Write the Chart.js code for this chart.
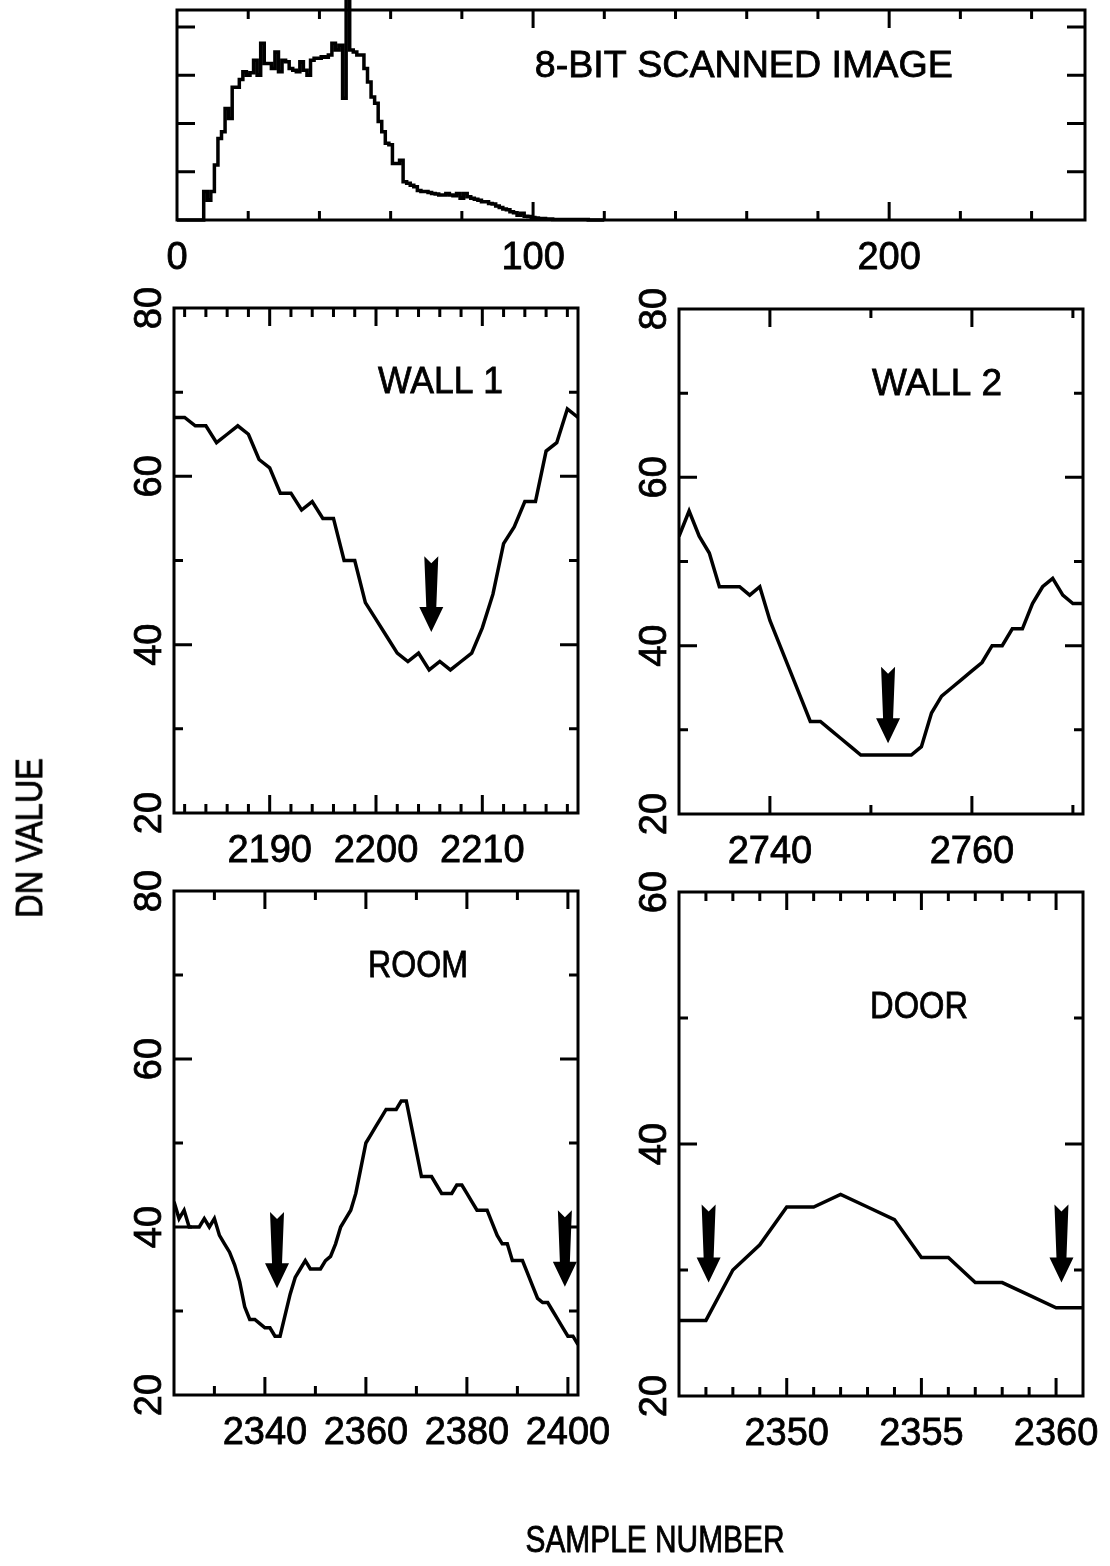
<!DOCTYPE html>
<html>
<head>
<meta charset="utf-8">
<title>DN value profiles</title>
<script src="https://cdn.jsdelivr.net/npm/chart.js@4.4.1/dist/chart.umd.min.js"></script>
<style>
  html, body { margin: 0; padding: 0; background: #fff; }
  #page { position: relative; width: 1110px; height: 1566px; overflow: hidden; background: #fff; }
  #page canvas { position: absolute; left: 0; top: 0; }
  .axis-title {
    position: absolute;
    font-family: "Liberation Sans", Arial, sans-serif;
    font-size: 36px;
    color: #000;
    white-space: nowrap;
    -webkit-text-stroke: 0.8px #000;
  }
  #dn-label { left: 30px; top: 838px; transform: translate(-50%, -50%) rotate(-90deg) scaleX(0.9); }
  #sample-label { left: 655px; top: 1540px; transform: translate(-50%, -50%) scaleX(0.83); }
</style>
</head>
<body>
<div id="page">
  <canvas id="hist-chart" width="1110" height="1566"></canvas>
  <canvas id="wall1-chart" width="1110" height="1566"></canvas>
  <canvas id="wall2-chart" width="1110" height="1566"></canvas>
  <canvas id="room-chart" width="1110" height="1566"></canvas>
  <canvas id="door-chart" width="1110" height="1566"></canvas>
  <div class="axis-title" id="dn-label">DN VALUE</div>
  <div class="axis-title" id="sample-label">SAMPLE NUMBER</div>
</div>
<script>
"use strict";

// histogram of the 8-bit scanned image, one value per DN bin starting at 0
// (bins above 120 are empty)
const histCounts = [
  0, 0, 0, 0, 0, 0, 0, 0, 0.59, 0.41,
  0.59, 1.14, 1.69, 1.83, 2.31, 2.10, 2.75, 2.75, 2.91, 3.07,
  3.00, 3.05, 3.31, 3.00, 3.66, 3.24, 3.24, 3.14, 3.48, 3.07,
  3.31, 3.28, 3.14, 3.10, 3.07, 3.28, 3.10, 3.00, 3.31, 3.35,
  3.35, 3.38, 3.37, 3.42, 3.66, 3.52, 3.62, 2.52, 4.70, 3.52,
  3.48, 3.42, 3.42, 3.14, 2.86, 2.55, 2.42, 2.04, 1.83, 1.59,
  1.56, 1.17, 1.17, 1.24, 0.79, 0.76, 0.72, 0.69, 0.61, 0.59,
  0.59, 0.57, 0.55, 0.54, 0.52, 0.52, 0.55, 0.52, 0.50, 0.55,
  0.45, 0.55, 0.48, 0.45, 0.43, 0.41, 0.38, 0.38, 0.34, 0.33,
  0.29, 0.26, 0.23, 0.21, 0.17, 0.15, 0.10, 0.14, 0.08, 0.07,
  0.05, 0.04, 0.03, 0.03, 0.02, 0.02, 0.01, 0.01, 0.01, 0.01,
  0.01, 0.01, 0.01, 0.01, 0.01, 0.01, 0, 0, 0, 0, 0
];

// WALL 1 profile, samples 2181..2219
const wall1Start = 2181;
const wall1Values = [
  67, 67, 66, 66, 64, 65, 66, 65, 62, 61,
  58, 58, 56, 57, 55, 55, 50, 50, 45, 43,
  41, 39, 38, 39, 37, 38, 37, 38, 39, 42,
  46, 52, 54, 57, 57, 63, 64, 68, 67
];

// WALL 2 profile, samples 2731..2771
const wall2Start = 2731;
const wall2Values = [
  53, 56, 53, 51, 47, 47, 47, 46, 47, 43,
  40, 37, 34, 31, 31, 30, 29, 28, 27, 27,
  27, 27, 27, 27, 28, 32, 34, 35, 36, 37,
  38, 40, 40, 42, 42, 45, 47, 48, 46, 45, 45
];

// ROOM profile, samples 2322..2402
const roomStart = 2322;
const roomValues = [
  43, 41, 42, 40, 40, 40, 41, 40, 41, 39,
  38, 37, 35.5, 33.5, 30.5, 29, 29, 28.5, 28, 28,
  27, 27, 29.5, 32, 34, 35, 36, 35, 35, 35,
  36, 36.5, 38, 40, 41, 42, 44, 47, 50, 51,
  52, 53, 54, 54, 54, 55, 55, 52, 49, 46,
  46, 46, 45, 44, 44, 44, 45, 45, 44, 43,
  42, 42, 42, 40.5, 39, 38, 38, 36, 36, 36,
  34.5, 33, 31.5, 31, 31, 30, 29, 28, 27, 27, 26
];

// DOOR profile, samples 2346..2361
const doorStart = 2346;
const doorValues = [26, 26, 30, 32, 35, 35, 36, 35, 34, 31, 31, 29, 29, 28, 27, 27];

// arrows: [sample, DN at tip, DN at tail]
const wall1Arrows = [[2205.2, 41.5, 50.5]];
const wall2Arrows = [[2751.7, 28.4, 37.5]];
const roomArrows = [[2342.4, 32.7, 41.8], [2399.4, 32.9, 42.0]];
const doorArrows = [[2347.1, 29.0, 35.2], [2360.2, 29.0, 35.2]];

const AXIS_FONT = '38px "Liberation Sans", Arial, sans-serif';
const TITLE_FONT = '37px "Liberation Sans", Arial, sans-serif';
const PAGE_W = 1110;
const PAGE_H = 1566;

function toPoints(start, values) {
  return values.map((v, i) => ({ x: start + i, y: v }));
}

function ticksBetween(min, max, step) {
  const out = [];
  const first = Math.ceil(min / step - 1e-9) * step;
  for (let v = first; v <= max + 1e-9; v += step) {
    out.push(Math.round(v * 1000) / 1000);
  }
  return out;
}

function isMultiple(v, step) {
  const r = v / step;
  return Math.abs(r - Math.round(r)) < 1e-6;
}

// plotter-style text: fill plus a thin outline so strokes look heavier
function heavyText(ctx, text, x, y) {
  ctx.fillText(text, x, y);
  ctx.strokeText(text, x, y);
}

// box, inward ticks on all sides, tick labels, panel caption and arrows
const framePlugin = {
  id: "frame",
  afterDatasetsDraw(chart, args, opts) {
    const ctx = chart.ctx;
    const area = chart.chartArea;
    const xs = chart.scales.x;
    const ys = chart.scales.y;
    ctx.save();
    ctx.strokeStyle = "#000";
    ctx.fillStyle = "#000";
    ctx.lineWidth = 3;
    ctx.lineCap = "butt";

    ctx.beginPath();
    ticksBetween(xs.min, xs.max, opts.xStep).forEach((v) => {
      const px = xs.getPixelForValue(v);
      if (px <= area.left + 2 || px >= area.right - 2) return;
      const len = isMultiple(v, opts.xMajor) ? 18 : 9;
      ctx.moveTo(px, area.bottom);
      ctx.lineTo(px, area.bottom - len);
      ctx.moveTo(px, area.top);
      ctx.lineTo(px, area.top + len);
    });
    ticksBetween(ys.min, ys.max, opts.yStep).forEach((v) => {
      const py = ys.getPixelForValue(v);
      if (py <= area.top + 2 || py >= area.bottom - 2) return;
      const len = isMultiple(v, opts.yMajor) ? 18 : 9;
      ctx.moveTo(area.left, py);
      ctx.lineTo(area.left + len, py);
      ctx.moveTo(area.right, py);
      ctx.lineTo(area.right - len, py);
    });
    ctx.stroke();
    ctx.strokeRect(area.left, area.top, area.right - area.left, area.bottom - area.top);

    ctx.lineWidth = 0.8;
    ctx.font = AXIS_FONT;
    ctx.textAlign = "center";
    ctx.textBaseline = "alphabetic";
    ticksBetween(xs.min, xs.max, opts.xMajor).forEach((v) => {
      heavyText(ctx, String(v), xs.getPixelForValue(v), area.bottom + 49);
    });
    if (opts.yLabels) {
      ticksBetween(ys.min, ys.max, opts.yMajor).forEach((v) => {
        ctx.save();
        ctx.translate(area.left - 13, ys.getPixelForValue(v));
        ctx.rotate(-Math.PI / 2);
        heavyText(ctx, String(v), 0, 0);
        ctx.restore();
      });
    }

    if (opts.title) {
      const t = opts.title;
      ctx.font = TITLE_FONT;
      ctx.textAlign = "left";
      const w = ctx.measureText(t.text).width;
      const tx = area.left + t.left * (area.right - area.left);
      const ty = area.top + t.base * (area.bottom - area.top);
      ctx.save();
      ctx.translate(tx, ty);
      ctx.scale(t.width / w, 1);
      heavyText(ctx, t.text, 0, 0);
      ctx.restore();
    }

    (opts.arrows || []).forEach(([sx, tipVal, tailVal]) => {
      const px = xs.getPixelForValue(sx);
      const tip = ys.getPixelForValue(tipVal);
      const tail = ys.getPixelForValue(tailVal);
      const headBase = tip - 25;
      ctx.beginPath();
      ctx.moveTo(px - 7, tail);
      ctx.lineTo(px, tail + 7);
      ctx.lineTo(px + 7, tail);
      ctx.lineTo(px + 5, headBase);
      ctx.lineTo(px + 12, headBase);
      ctx.lineTo(px, tip);
      ctx.lineTo(px - 12, headBase);
      ctx.lineTo(px - 5, headBase);
      ctx.closePath();
      ctx.fill();
    });
    ctx.restore();
  }
};

function renderPanel(canvasId, box, points, xRange, yRange, frame, extra) {
  const ctx = document.getElementById(canvasId).getContext("2d");
  return new Chart(ctx, {
    type: "line",
    data: {
      datasets: [
        Object.assign({
          data: points,
          borderColor: "#000",
          borderWidth: 3.5,
          pointRadius: 0,
          fill: false,
          tension: 0,
        }, extra || {}),
      ],
    },
    options: {
      responsive: false,
      animation: false,
      events: [],
      layout: {
        padding: {
          left: box.left,
          top: box.top,
          right: PAGE_W - box.right,
          bottom: PAGE_H - box.bottom,
        },
      },
      scales: {
        x: { type: "linear", min: xRange[0], max: xRange[1], display: false },
        y: { type: "linear", min: yRange[0], max: yRange[1], display: false },
      },
      plugins: {
        legend: { display: false },
        tooltip: { enabled: false },
        frame: frame,
      },
    },
    plugins: [framePlugin],
  });
}

// top histogram
const histChart = renderPanel(
  "hist-chart",
  { left: 177, top: 10, right: 1085, bottom: 220 },
  histCounts.map((v, i) => ({ x: i, y: v })),
  [0, 255], [0, 4.35],
  {
    xStep: 20, xMajor: 100, yStep: 1, yMajor: 1, yLabels: false,
    title: { text: "8-BIT SCANNED IMAGE", left: 0.394, base: 0.319, width: 418 },
  },
  { stepped: "middle", clip: false }
);

const wall1Chart = renderPanel(
  "wall1-chart",
  { left: 174, top: 308, right: 578, bottom: 813 },
  toPoints(wall1Start, wall1Values),
  [2181, 2219], [20, 80],
  {
    xStep: 2, xMajor: 10, yStep: 10, yMajor: 20, yLabels: true,
    title: { text: "WALL 1", left: 0.505, base: 0.168, width: 125 },
    arrows: wall1Arrows,
  }
);

const wall2Chart = renderPanel(
  "wall2-chart",
  { left: 679, top: 309, right: 1083, bottom: 814 },
  toPoints(wall2Start, wall2Values),
  [2731, 2771], [20, 80],
  {
    xStep: 10, xMajor: 20, yStep: 10, yMajor: 20, yLabels: true,
    title: { text: "WALL 2", left: 0.478, base: 0.170, width: 130 },
    arrows: wall2Arrows,
  }
);

const roomChart = renderPanel(
  "room-chart",
  { left: 174, top: 891, right: 578, bottom: 1395 },
  toPoints(roomStart, roomValues),
  [2322, 2402], [20, 80],
  {
    xStep: 10, xMajor: 20, yStep: 10, yMajor: 20, yLabels: true,
    title: { text: "ROOM", left: 0.48, base: 0.171, width: 100 },
    arrows: roomArrows,
  }
);

const doorChart = renderPanel(
  "door-chart",
  { left: 679, top: 892, right: 1083, bottom: 1396 },
  toPoints(doorStart, doorValues),
  [2346, 2361], [20, 60],
  {
    xStep: 1, xMajor: 5, yStep: 10, yMajor: 20, yLabels: true,
    title: { text: "DOOR", left: 0.473, base: 0.25, width: 98 },
    arrows: doorArrows,
  }
);
</script>
</body>
</html>
